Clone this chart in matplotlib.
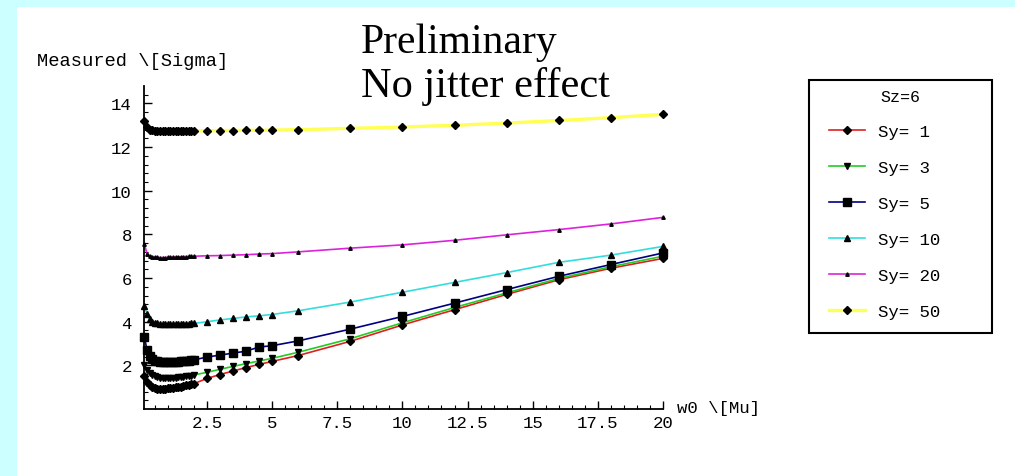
import matplotlib
matplotlib.use('Agg')
from matplotlib import pyplot as plt
from matplotlib.patches import Rectangle

# w0 values (dense scan near zero, then coarser)
w0 = [0.1, 0.2, 0.3, 0.4, 0.5, 0.6, 0.7, 0.8, 0.9, 1.0,
      1.1, 1.2, 1.3, 1.4, 1.5, 1.6, 1.7, 1.8, 1.9, 2.0,
      2.5, 3.0, 3.5, 4.0, 4.5, 5.0, 6.0, 8.0, 10.0, 12.0, 14.0, 16.0, 18.0, 20.0]

sy1 = [1.50, 1.25, 1.10, 1.02, 0.97, 0.93, 0.92, 0.92, 0.93, 0.94,
       0.96, 0.97, 0.99, 1.01, 1.03, 1.05, 1.08, 1.10, 1.13, 1.16,
       1.40, 1.58, 1.74, 1.90, 2.04, 2.18, 2.45, 3.10, 3.85, 4.55, 5.25, 5.92, 6.45, 6.90]
sy3 = [2.00, 1.78, 1.63, 1.55, 1.50, 1.46, 1.44, 1.43, 1.42, 1.42,
       1.42, 1.43, 1.44, 1.45, 1.46, 1.47, 1.49, 1.51, 1.53, 1.56,
       1.68, 1.82, 1.95, 2.08, 2.20, 2.32, 2.60, 3.22, 3.95, 4.65, 5.32, 5.98, 6.52, 7.00]
sy5 = [3.30, 2.70, 2.42, 2.30, 2.22, 2.18, 2.16, 2.15, 2.15, 2.15,
       2.15, 2.16, 2.16, 2.17, 2.18, 2.19, 2.20, 2.22, 2.23, 2.25,
       2.38, 2.47, 2.56, 2.65, 2.84, 2.90, 3.12, 3.66, 4.24, 4.85, 5.47, 6.08, 6.62, 7.15]
sy10 = [4.70, 4.35, 4.12, 4.00, 3.95, 3.92, 3.90, 3.90, 3.90, 3.90,
        3.90, 3.90, 3.90, 3.90, 3.90, 3.91, 3.91, 3.91, 3.92, 3.92,
        4.00, 4.08, 4.15, 4.22, 4.27, 4.33, 4.50, 4.90, 5.35, 5.80, 6.25, 6.72, 7.05, 7.45]
sy20 = [7.55, 7.12, 7.02, 6.98, 6.96, 6.95, 6.94, 6.94, 6.94, 6.95,
        6.95, 6.96, 6.96, 6.97, 6.97, 6.98, 6.98, 6.99, 6.99, 7.00,
        7.02, 7.03, 7.05, 7.07, 7.10, 7.12, 7.20, 7.37, 7.52, 7.73, 7.98, 8.22, 8.48, 8.78]
sy50 = [13.20, 12.90, 12.80, 12.77, 12.75, 12.75, 12.75, 12.75, 12.75, 12.75,
        12.75, 12.75, 12.75, 12.75, 12.75, 12.75, 12.75, 12.75, 12.75, 12.75,
        12.75, 12.76, 12.76, 12.77, 12.77, 12.78, 12.80, 12.86, 12.92, 13.00, 13.10, 13.22, 13.35, 13.50]

labels = ['Sy= 1', 'Sy= 3', 'Sy= 5', 'Sy= 10', 'Sy= 20', 'Sy= 50']
xticks = [2.5, 5, 7.5, 10, 12.5, 15, 17.5, 20]
xticklabels = ['2.5', '5', '7.5', '10', '12.5', '15', '17.5', '20']
yticks = [2, 4, 6, 8, 10, 12, 14]

W, H = 1015, 477
mono = 'Liberation Mono'

fig = plt.figure(figsize=(W / 100, H / 100), dpi=100)
fig.patch.set_facecolor('#ccffff')
# white page area and legend frame, both kept under the axes
fig.patches.append(Rectangle((17 / W, 0), 1 - 17 / W, 1 - 8 / H, transform=fig.transFigure,
                             facecolor='white', edgecolor='none', zorder=-3))
fig.patches.append(Rectangle((809 / W, 1 - 334 / H), 183 / W, 253 / H, transform=fig.transFigure,
                             facecolor='white', edgecolor='black', lw=1.5, zorder=-2))

ax = fig.add_axes([144.4 / W, 1 - 410 / H, (663 - 144.4) / W, (410 - 87) / H])
ax.set_facecolor('none')
ax.set_zorder(1)

styles = [
    (sy1, '#e02020', 'D', 3.8, 1.2),
    (sy3, '#22cc22', 'v', 5.0, 1.2),
    (sy5, '#000080', 's', 6.3, 1.2),
    (sy10, '#33dddd', '^', 4.0, 1.2),
    (sy20, '#dd22dd', '^', 2.5, 1.2),
    (sy50, '#ffff55', 'D', 4.0, 2.4),
]
for (ys, col, mk, ms, lw), lab in zip(styles, labels):
    ax.plot(w0, ys, color=col, lw=lw, marker=mk, markersize=ms,
            markerfacecolor='black', markeredgecolor='black', label=lab, clip_on=False)

ax.set_xlim(0.1, 20)
ax.set_ylim(0, 14.8)
for s in ['top', 'right']:
    ax.spines[s].set_visible(False)
for s in ['left', 'bottom']:
    ax.spines[s].set_linewidth(1.3)

ax.set_xticks(xticks)
ax.set_xticklabels(xticklabels)
ax.set_yticks(yticks)
ax.set_xticks([v / 2 for v in range(1, 41)], minor=True)
ax.set_yticks([v * 0.4 for v in range(1, 37)], minor=True)
ax.tick_params(which='major', direction='in', length=6, width=1.0, labelsize=12.5)
ax.tick_params(which='minor', direction='in', length=3, width=0.8)
ax.tick_params(axis='x', which='major', pad=4)
ax.tick_params(axis='y', which='major', pad=9)
for t in ax.get_xticklabels() + ax.get_yticklabels():
    t.set_fontfamily(mono)

fig.text(37 / W, 1 - 62 / H, r'Measured \[Sigma]', family=mono, fontsize=13.5,
         ha='left', va='center')
fig.text(677 / W, 1 - 408 / H, r'w0 \[Mu]', family=mono, fontsize=12.5,
         ha='left', va='center')

fig.text(361 / W, 1 - 53 / H, 'Preliminary', family='Liberation Serif', fontsize=30,
         ha='left', va='baseline')
fig.text(361 / W, 1 - 97 / H, 'No jitter effect', family='Liberation Serif', fontsize=30.5,
         ha='left', va='baseline')

fig.text(900 / W, 1 - 97 / H, 'Sz=6', family=mono, fontsize=12, ha='center', va='center')
leg = ax.legend(loc='upper left', bbox_to_anchor=(829 / W, 1 - 125 / H),
                bbox_transform=fig.transFigure, frameon=False, borderpad=0, borderaxespad=0,
                numpoints=1, handlelength=2.1, handletextpad=0.7, labelspacing=1.2,
                prop={'family': mono, 'size': 12.5})

fig.savefig('out.png', dpi=100, facecolor=fig.get_facecolor())
